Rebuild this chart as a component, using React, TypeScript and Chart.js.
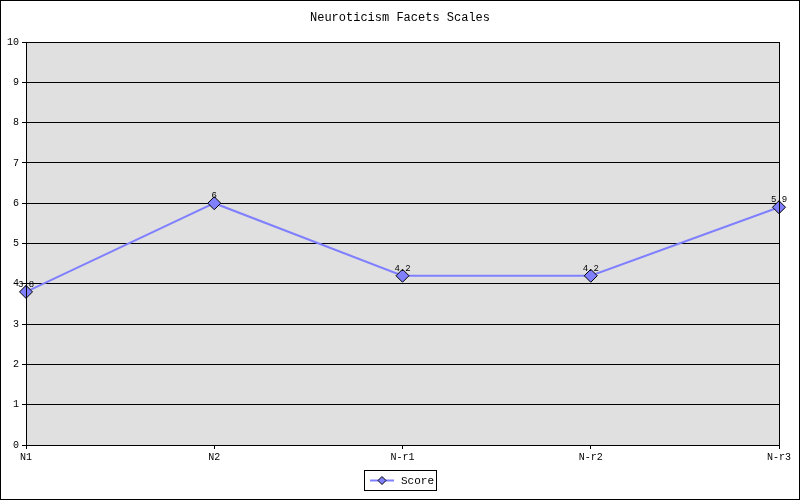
import React, { useEffect, useRef } from "react";
import { Chart, registerables } from "chart.js";

Chart.register(...registerables);

const categories = ["N1", "N2", "N-r1", "N-r2", "N-r3"];
const scores = [3.8, 6, 4.2, 4.2, 5.9];
const seriesName = "Score";
const chartTitle = "Neuroticism Facets Scales";

const MONO = "'Liberation Mono', 'DejaVu Sans Mono', monospace";
const LINE_COLOR = "#8080ff";
const PLOT_BG = "#e0e0e0";

const decorPlugin = {
  id: "decor",
  beforeDraw(chart: any) {
    const { ctx, chartArea: a, width, height } = chart;
    ctx.save();
    ctx.fillStyle = "#ffffff";
    ctx.fillRect(0, 0, width, height);
    ctx.fillStyle = PLOT_BG;
    ctx.fillRect(a.left, a.top, a.right - a.left, a.bottom - a.top);
    ctx.restore();
  },
  afterDraw(chart: any) {
    const { ctx, chartArea: a, width, height } = chart;
    ctx.save();
    // plot border
    ctx.strokeStyle = "#000";
    ctx.lineWidth = 1;
    ctx.strokeRect(Math.round(a.left) + 0.5, Math.round(a.top) + 0.5, Math.round(a.right - a.left), Math.round(a.bottom - a.top));
    // outer border
    ctx.strokeRect(0.5, 0.5, width - 1, height - 1);
    // title
    ctx.fillStyle = "#000";
    ctx.font = `12px ${MONO}`;
    ctx.textAlign = "center";
    ctx.textBaseline = "middle";
    ctx.fillText(chartTitle, width / 2, 18);
    // legend
    const lx = 364, ly = 470, lw = 72, lh = 20;
    ctx.strokeRect(lx + 0.5, ly + 0.5, lw, lh);
    ctx.strokeStyle = LINE_COLOR;
    ctx.lineWidth = 2;
    ctx.beginPath();
    ctx.moveTo(lx + 6, ly + 10.5);
    ctx.lineTo(lx + 30, ly + 10.5);
    ctx.stroke();
    const cx = lx + 18, cy = ly + 10.5, r = 4;
    ctx.beginPath();
    ctx.moveTo(cx, cy - r);
    ctx.lineTo(cx + r, cy);
    ctx.lineTo(cx, cy + r);
    ctx.lineTo(cx - r, cy);
    ctx.closePath();
    ctx.fillStyle = LINE_COLOR;
    ctx.fill();
    ctx.strokeStyle = "#000";
    ctx.lineWidth = 1;
    ctx.stroke();
    ctx.fillStyle = "#000";
    ctx.font = `11px ${MONO}`;
    ctx.textAlign = "left";
    ctx.textBaseline = "middle";
    ctx.fillText(seriesName, lx + 37, ly + 11);
    // data labels
    const meta = chart.getDatasetMeta(0);
    ctx.font = `9px ${MONO}`;
    ctx.textAlign = "center";
    ctx.textBaseline = "alphabetic";
    meta.data.forEach((pt: any, i: number) => {
      ctx.fillText(String(scores[i]), pt.x, pt.y - 5);
    });
    ctx.restore();
  },
};

export default function App() {
  const ref = useRef<HTMLCanvasElement>(null);
  useEffect(() => {
    document.body.style.margin = "0";
    const chart = new Chart(ref.current!, {
      type: "line",
      data: {
        labels: categories,
        datasets: [
          {
            label: seriesName,
            data: scores,
            borderColor: LINE_COLOR,
            backgroundColor: LINE_COLOR,
            borderWidth: 2,
            pointStyle: "rectRot",
            pointRadius: 6.5,
            pointBorderColor: "#000",
            pointBorderWidth: 1,
            pointBackgroundColor: LINE_COLOR,
            tension: 0,
            clip: false as any,
          },
        ],
      },
      options: {
        responsive: false,
        animation: false,
        layout: { padding: { left: 0, right: 21, top: 42, bottom: 0 } },
        plugins: {
          legend: { display: false },
          title: { display: false },
          tooltip: { enabled: false },
        },
        scales: {
          x: {
            offset: false,
            grid: { display: true, drawOnChartArea: false, drawTicks: true, tickLength: 4, color: "#000" },
            border: { display: true, color: "#000" },
            ticks: { color: "#000", font: { family: MONO, size: 10 }, padding: 2, maxRotation: 0, autoSkip: false },
            afterFit: (s: any) => { s.height = 55; },
          },
          y: {
            min: 0,
            max: 10,
            grid: { color: "#000", tickLength: 4, drawTicks: true },
            border: { display: true, color: "#000" },
            ticks: { stepSize: 1, color: "#000", font: { family: MONO, size: 10 }, padding: 3 },
            afterFit: (s: any) => { s.width = 26; },
          },
        },
      },
      plugins: [decorPlugin],
    });
    return () => chart.destroy();
  }, []);
  return (
    <div style={{ width: 800, height: 500 }}>
      <canvas ref={ref} width={800} height={500} />
    </div>
  );
}
